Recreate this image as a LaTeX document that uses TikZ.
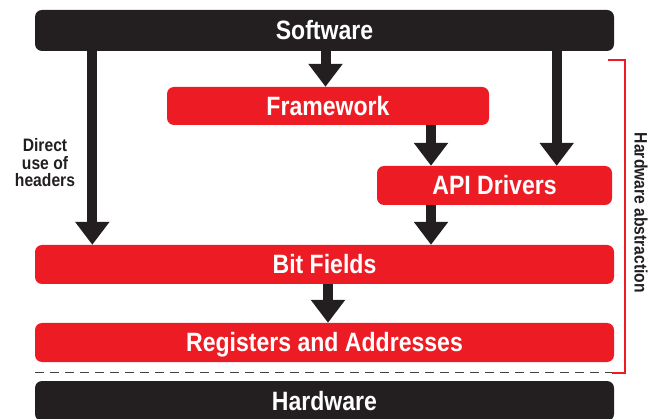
\documentclass[tikz,border=0pt]{standalone}
\usepackage{fontspec}
\setmainfont{Liberation Sans}[FakeStretch=0.87]
\usetikzlibrary{arrows.meta}
\definecolor{hred}{HTML}{ED1C24}
\definecolor{hblk}{HTML}{231F20}
\begin{document}
\begin{tikzpicture}[x=1pt,y=-1pt,
  box/.style={rounded corners=7pt, inner sep=0pt, text=white,
    font=\fontsize{26.5pt}{27pt}\selectfont\bfseries,
    text height=18.5pt, text depth=0pt},
  redbox/.style={box, fill=hred},
  blkbox/.style={box, fill=hblk},
  flow/.style={draw=hblk, line width=10pt,
    -{Triangle[width=33pt,length=23pt]}, color=hblk},
  lbl/.style={font=\fontsize{18pt}{17.5pt}\selectfont\bfseries, text=hblk, align=center, inner sep=0pt}
]
\useasboundingbox (0,0) rectangle (650,419);
\clip (0,0) rectangle (650,419);

\node[blkbox, minimum width=579pt, minimum height=41pt] (sw) at (324.5,30.5) {Software};
\node[redbox, minimum width=322pt, minimum height=38pt] (fw) at (328,106) {Framework};
\node[redbox, minimum width=235pt, minimum height=39pt] (api) at (494.5,185.5) {API Drivers};
\node[redbox, minimum width=579pt, minimum height=39pt] (bf) at (324.5,264.5) {Bit Fields};
\node[redbox, minimum width=579pt, minimum height=39pt] (reg) at (324.5,342.5) {Registers and Addresses};
\node[blkbox, minimum width=579pt, minimum height=40pt] (hw) at (324.5,401) {Hardware};

\draw[flow] (325.5,0 |- sw.south) -- (325.5,0 |- fw.north);
\draw[flow] (92.3,0 |- sw.south) -- (92.3,0 |- bf.north);
\draw[flow] (556.7,0 |- sw.south) -- (556.7,0 |- api.north);
\draw[flow] (431,0 |- fw.south) -- (431,0 |- api.north);
\draw[flow] (431,0 |- api.south) -- (431,0 |- bf.north);
\draw[flow] (328,0 |- bf.south) -- (328,0 |- reg.north);

\coordinate (dl) at (35,372.5);
\coordinate (dr) at (612,372.5);
\draw[hblk!85, line width=1.2pt, dash pattern=on 9pt off 6pt] (dl) -- (dr);

\coordinate (bt) at (608,60);
\coordinate (btr) at (625,60);
\coordinate (bbr) at (625,372.5);
\draw[hred, line width=2pt] (bt) -- (btr) -- (bbr) -- (dr);

\node[lbl] (direct) at (45,163) {Direct\\use of\\headers};
\node[lbl, rotate=-90] (habs) at (641,213) {Hardware abstraction};
\end{tikzpicture}
\end{document}
